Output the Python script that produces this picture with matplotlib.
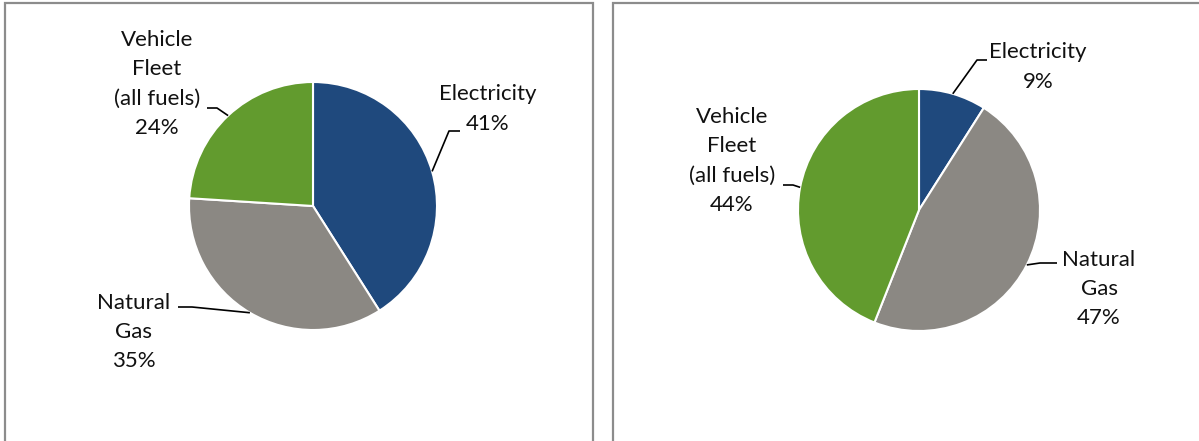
import matplotlib
matplotlib.use("Agg")
import matplotlib.pyplot as plt
from matplotlib.patches import Rectangle
import numpy as np

# ---- data ----
categories = ["Electricity", "Natural Gas", "Vehicle Fleet (all fuels)"]
label_names = ["Electricity", "Natural\nGas", "Vehicle\nFleet\n(all fuels)"]
left_values = [41, 35, 24]
right_values = [9, 47, 44]
colors = ["#1F497D", "#8B8883", "#629B2E"]

# ---- layout (pixel units, image y measured from top) ----
W, H = 1199, 441
plt.rcParams['font.family'] = ['Lato', 'DejaVu Sans']

fig = plt.figure(figsize=(W / 100, H / 100), dpi=100)
ax = fig.add_axes([0, 0, 1, 1])


def Y(y):
    return H - y


panels = [
    dict(values=left_values, frame=(5, 3, 593), center=(313, 206), radius=124,
         labels=[(488, 109), (134, 332), (157, 84)],
         leaders=[((460, 131), 449), ((178, 307), 192), ((207, 108), 217)]),
    dict(values=right_values, frame=(613, 3, 1215), center=(919, 210), radius=121,
         labels=[(1038, 67), (1099, 289), (732, 161)],
         leaders=[((987, 60), 977), ((1057, 263), 1040), ((783, 185), 793)]),
]

for p in panels:
    x0, y0, x1 = p["frame"]
    ax.add_patch(Rectangle((x0, Y(H + 20)), x1 - x0, (H + 20) - y0,
                           facecolor="none", edgecolor="#8C8C8C", linewidth=1.6, zorder=0))
    cx, cy = p["center"]
    r = p["radius"]
    wedges, _ = ax.pie(p["values"], colors=colors, startangle=90, counterclock=False,
                       center=(cx, Y(cy)), radius=r, frame=True,
                       wedgeprops=dict(edgecolor="white", linewidth=1.5))
    for w, name, val, (lx, ly), ((tx, ty), ex) in zip(wedges, label_names, p["values"],
                                                        p["labels"], p["leaders"]):
        ax.text(lx, Y(ly), f"{name}\n{val}%", ha="center", va="center",
                fontsize=16, color="#111111", linespacing=1.58)
        mid = np.deg2rad((w.theta1 + w.theta2) / 2)
        px = cx + r * np.cos(mid)
        py = Y(cy) + r * np.sin(mid)
        ax.plot([tx, ex, px], [Y(ty), Y(ty), py], color="black", linewidth=1.2,
                solid_capstyle="butt", zorder=5)

ax.set_xlim(0, W)
ax.set_ylim(0, H)
ax.set_aspect("auto")
ax.set_axis_off()

fig.savefig("out.png", dpi=100, facecolor="white")
